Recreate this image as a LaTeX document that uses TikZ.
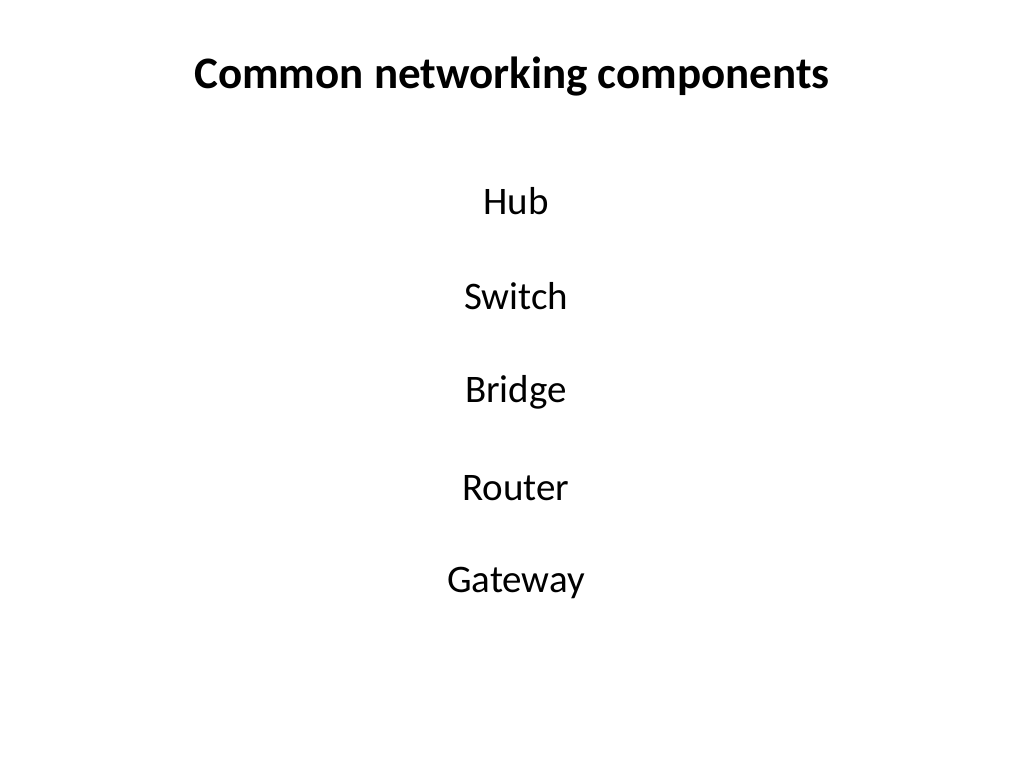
\documentclass[tikz,border=0pt]{standalone}
\usepackage{fontspec}
\setmainfont{Carlito}
\begin{document}
\begin{tikzpicture}[x=1pt,y=-1pt,item/.style={font=\fontsize{39}{44}\selectfont,anchor=center}]
\useasboundingbox (0,0) rectangle (1024,768);
\node[font=\bfseries\fontsize{45}{52}\selectfont] (title) at (512,77) {Common networking components};
\node[item] (hub) at (516,201) {Hub};
\node[item] (switch) at (516,296) {Switch};
\node[item] (bridge) at (516,392) {Bridge};
\node[item] (router) at (516,488) {Router};
\node[item] (gateway) at (516,583) {Gateway};
\end{tikzpicture}
\end{document}
